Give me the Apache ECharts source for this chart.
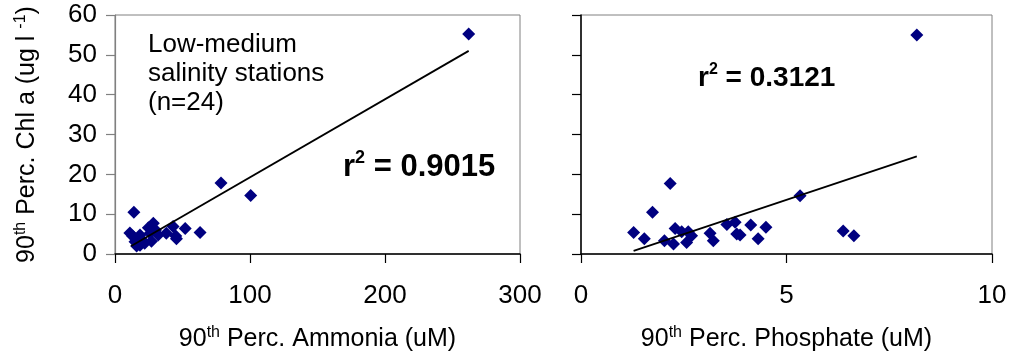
<!DOCTYPE html>
<html>
<head>
<meta charset="utf-8">
<script src="https://cdn.jsdelivr.net/npm/echarts@6/dist/echarts.min.js"></script>
<style>
html, body { margin: 0; padding: 0; background: #fff; }
#chart { width: 1011px; height: 354px; }
</style>
</head>
<body>
<div id="chart"></div>
<script>
// left panel: ammonia vs chl a
var ammonia = [262, 78.5, 100.5, 14, 63, 52, 43, 45.5, 28.4, 24.7, 11, 18.5, 14.8, 22, 26, 32, 38, 18.5, 13, 20, 30, 27, 45, 16];
var chlAmmonia = [55.2, 17.8, 14.7, 10.5, 5.4, 6.4, 6.9, 3.8, 7.7, 6.6, 5.3, 4.8, 3.1, 2.7, 5.2, 4.8, 5.2, 2.2, 4.5, 3.5, 6.0, 3.2, 4.5, 2.0];
// right panel: phosphate vs chl a
var phosphate = [8.17, 2.17, 1.74, 1.28, 1.54, 2.03, 2.25, 2.29, 2.45, 2.61, 2.57, 2.69, 3.14, 3.22, 3.55, 3.75, 3.79, 3.87, 4.13, 4.31, 4.50, 5.33, 6.38, 6.64];
var chlPhosphate = [55.0, 17.7, 10.5, 5.4, 3.8, 3.3, 2.5, 6.4, 5.6, 5.6, 2.9, 4.6, 5.2, 3.3, 7.4, 8.0, 5.0, 4.8, 7.3, 3.8, 6.7, 14.6, 5.8, 4.6];

// fitted lines, end points
var trendAmmonia = [[12, 2.0], [262, 51.0]];
var trendPhosphate = [[1.28, 0.8], [8.17, 24.5]];

var ammoniaTicks = { min: 0, max: 300, interval: 100 };
var phosphateTicks = { min: 0, max: 10, interval: 5 };
var chlTicks = { min: 0, max: 60, interval: 10 };

var FONT = 'Liberation Sans, Arial, sans-serif';
var supRich = { sup: { fontSize: 16, lineHeight: 14, verticalAlign: 'top', fontFamily: FONT, color: '#000' } };

function zip(xs, ys) {
    return xs.map(function (x, i) { return [x, ys[i]]; });
}

function xAxisFor(ticks, gridIndex, title) {
    return {
        type: 'value',
        gridIndex: gridIndex,
        min: ticks.min, max: ticks.max, interval: ticks.interval,
        splitLine: { show: false },
        axisLine: { onZero: false, lineStyle: { color: '#000', width: 1.5 } },
        axisTick: { inside: false, length: 9, lineStyle: { color: '#000', width: 1.2 } },
        axisLabel: { color: '#000', fontSize: 26, fontFamily: FONT, margin: 29 },
        name: title,
        nameLocation: 'middle',
        nameGap: 71,
        nameTextStyle: { color: '#000', fontSize: 25, lineHeight: 29, fontFamily: FONT, rich: supRich }
    };
}

var chart = echarts.init(document.getElementById('chart'), null, { renderer: 'canvas' });

chart.setOption({
    backgroundColor: '#fff',
    animation: false,
    grid: [
        { left: 115, top: 15, width: 405, height: 239, outerBoundsMode: 'none', containLabel: false, show: true, borderColor: '#808080', borderWidth: 1, backgroundColor: 'transparent' },
        { left: 581, top: 15, width: 411, height: 239, outerBoundsMode: 'none', containLabel: false, show: true, borderColor: '#808080', borderWidth: 1, backgroundColor: 'transparent' }
    ],
    xAxis: [
        xAxisFor(ammoniaTicks, 0, '90{sup|th} Perc. Ammonia (uM)'),
        xAxisFor(phosphateTicks, 1, '90{sup|th} Perc. Phosphate (uM)')
    ],
    yAxis: [
        {
            type: 'value', gridIndex: 0,
            min: chlTicks.min, max: chlTicks.max, interval: chlTicks.interval,
            splitLine: { show: false },
            axisLine: { onZero: false, lineStyle: { color: '#808080', width: 1.2 } },
            axisTick: { inside: false, length: 9, lineStyle: { color: '#808080', width: 1.2 } },
            axisLabel: { color: '#000', fontSize: 26, fontFamily: FONT, margin: 18 },
            name: '90{sup|th} Perc. Chl a (ug l {sup|-1})',
            nameLocation: 'middle',
            nameRotate: 90,
            nameGap: 73,
            nameTextStyle: { color: '#000', fontSize: 25, lineHeight: 29, fontFamily: FONT, rich: supRich }
        },
        {
            type: 'value', gridIndex: 1,
            min: chlTicks.min, max: chlTicks.max, interval: chlTicks.interval,
            splitLine: { show: false },
            axisLine: { onZero: false, lineStyle: { color: '#000', width: 1.5 } },
            axisTick: { inside: false, length: 9, lineStyle: { color: '#000', width: 1.2 } },
            axisLabel: { show: false }
        }
    ],
    series: [
        {
            type: 'scatter', xAxisIndex: 0, yAxisIndex: 0,
            symbol: 'diamond', symbolSize: 13,
            itemStyle: { color: '#000080', opacity: 1 },
            data: zip(ammonia, chlAmmonia), z: 2
        },
        {
            type: 'line', xAxisIndex: 0, yAxisIndex: 0,
            symbol: 'none', silent: true,
            lineStyle: { color: '#000', width: 1.8 },
            data: trendAmmonia, z: 3
        },
        {
            type: 'scatter', xAxisIndex: 1, yAxisIndex: 1,
            symbol: 'diamond', symbolSize: 13,
            itemStyle: { color: '#000080', opacity: 1 },
            data: zip(phosphate, chlPhosphate), z: 2
        },
        {
            type: 'line', xAxisIndex: 1, yAxisIndex: 1,
            symbol: 'none', silent: true,
            lineStyle: { color: '#000', width: 1.8 },
            data: trendPhosphate, z: 3
        }
    ],
    graphic: [
        {
            type: 'text', left: 148, top: 30,
            style: {
                text: 'Low-medium\nsalinity stations\n(n=24)',
                fontSize: 26, lineHeight: 29, fontFamily: FONT, fill: '#000'
            }
        },
        {
            type: 'text', left: 343, top: 149,
            style: {
                text: 'r{s|2} = 0.9015',
                fontSize: 31, fontWeight: 'bold', lineHeight: 36, fontFamily: FONT, fill: '#000',
                rich: { s: { fontSize: 18, fontWeight: 'bold', lineHeight: 17, verticalAlign: 'top', fontFamily: FONT, fill: '#000' } }
            }
        },
        {
            type: 'text', left: 698, top: 62,
            style: {
                text: 'r{s|2} = 0.3121',
                fontSize: 28, fontWeight: 'bold', lineHeight: 32, fontFamily: FONT, fill: '#000',
                rich: { s: { fontSize: 16, fontWeight: 'bold', lineHeight: 15, verticalAlign: 'top', fontFamily: FONT, fill: '#000' } }
            }
        }
    ]
});
</script>
</body>
</html>
